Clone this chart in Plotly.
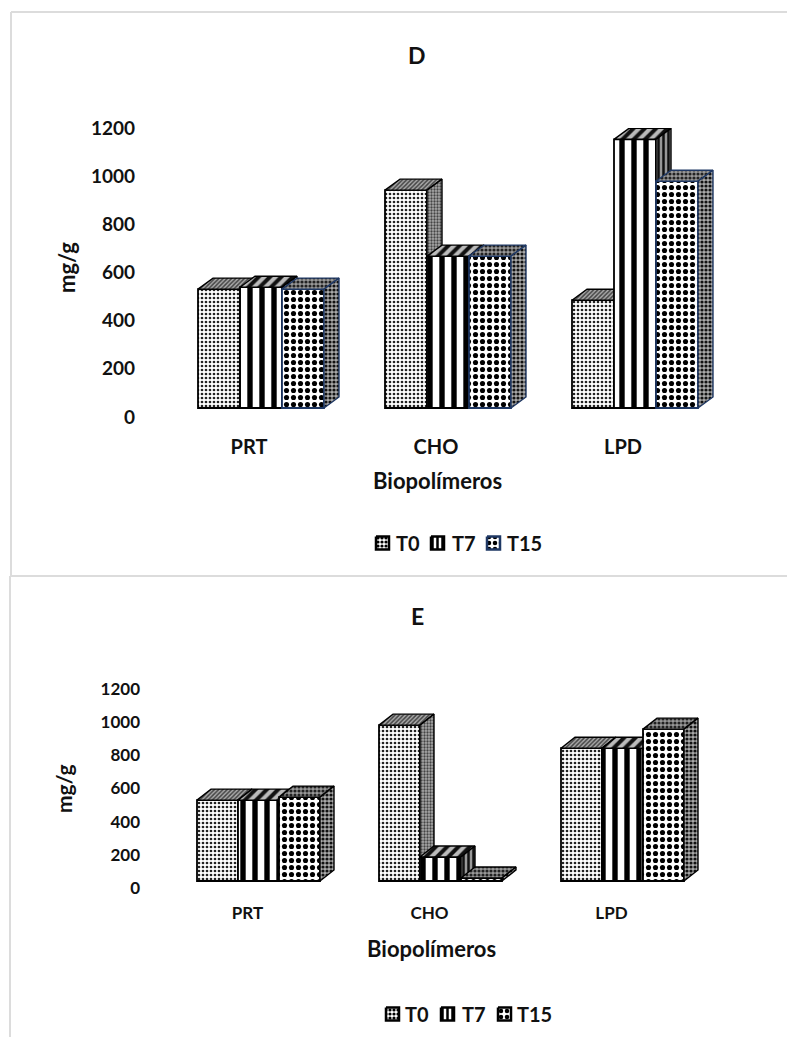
import plotly.graph_objects as go

WIDTH, HEIGHT = 787, 1037

categories = ["PRT", "CHO", "LPD"]
series_names = ["T0", "T7", "T15"]
y_ticks = [0, 200, 400, 600, 800, 1000, 1200]

d_t0 = [531, 942, 485]
d_t7 = [539, 668, 1153]
d_t15 = [531, 668, 979]

e_t0 = [530, 982, 843]
e_t7 = [530, 187, 843]
e_t15 = [548, 60, 958]

FONT = "Lato"
INK = "#111111"
NAVY = "#1f3864"


def pat(shape, size, solidity, fg, bg):
    return dict(shape=shape, size=size, solidity=solidity, fgcolor=fg, bgcolor=bg,
                fgopacity=1, fillmode="replace")


# Fill patterns for front, top and side faces of each series
FRONT = [
    pat(".", 4, 0.36, "#222222", "#ffffff"),
    pat("|", 12, 0.45, "#000000", "#ffffff"),
    pat(".", 7, 0.42, "#000000", "#ffffff"),
]
TOP = [
    pat("/", 3, 0.5, "#444444", "#aaaaaa"),
    pat("/", 8, 0.5, "#111111", "#bbbbbb"),
    pat(".", 4, 0.5, "#222222", "#999999"),
]
SIDE = [
    pat(".", 3, 0.45, "#444444", "#aaaaaa"),
    pat("|", 5, 0.5, "#111111", "#999999"),
    pat(".", 4, 0.5, "#111111", "#aaaaaa"),
]
KEY = [
    pat(".", 4, 0.5, "#000000", "#ffffff"),
    pat("|", 5, 0.5, "#000000", "#ffffff"),
    pat(".", 6, 0.45, "#000000", "#ffffff"),
]

PANELS = [
    dict(name="D", series=[d_t0, d_t7, d_t15], zero_y=417, top_y=128, first_x=261, step=187,
         bar_px=42, dx_px=15, dy_px=11, lift_px=9, left=136, right=760, tick_size=19,
         label_offset=-12, label_gap=16, label_size=20, edge=["black", "black", NAVY],
         title_y=55, xtitle=(437, 480), ytitle=(66, 268), ytitle_size=22,
         key_y=543, key_x=[376, 431, 487], key_text_x=[394, 450, 505], key_edge=["black", "black", NAVY]),
    dict(name="E", series=[e_t0, e_t7, e_t15], zero_y=888, top_y=689, first_x=258.5, step=182,
         bar_px=41, dx_px=14, dy_px=11, lift_px=7, left=141, right=760, tick_size=17,
         label_offset=-11, label_gap=13, label_size=17, edge=["black", "black", "black"],
         title_y=616, xtitle=(431, 948), ytitle=(63, 789), ytitle_size=21,
         key_y=1014, key_x=[386, 441, 498], key_text_x=[403, 460, 515], key_edge=["black", "black", "black"]),
]

fig = go.Figure()
layout = dict(
    width=WIDTH, height=HEIGHT, autosize=False,
    margin=dict(l=0, r=0, t=0, b=0, autoexpand=False),
    paper_bgcolor="white", plot_bgcolor="rgba(0,0,0,0)",
    font=dict(family=FONT, color=INK),
    hovermode="closest", showlegend=False,
    annotations=[], shapes=[],
)


def axis_suffix(n):
    return "" if n == 1 else str(n)


def page_text(text, x, y, size, angle=0, xanchor="center"):
    return dict(text=f"<b>{text}</b>", x=x / WIDTH, y=1 - y / HEIGHT, xref="paper", yref="paper",
                xanchor=xanchor, yanchor="middle", showarrow=False, textangle=angle,
                font=dict(size=size, color=INK))


for p_index, panel in enumerate(PANELS):
    px_per_unit = (panel["zero_y"] - panel["top_y"]) / 1200
    x_range = [(panel["left"] - panel["first_x"]) / panel["step"],
               (panel["right"] - panel["first_x"]) / panel["step"]]
    y_range = [0, 1200]
    bar_w = panel["bar_px"] / panel["step"]
    dx = panel["dx_px"] / panel["step"]
    dy = panel["dy_px"] / px_per_unit
    lift = panel["lift_px"] / px_per_unit

    for s_index, values in enumerate(panel["series"]):
        n = p_index * 3 + s_index + 1
        xref, yref = "x" + axis_suffix(n), "y" + axis_suffix(n)
        edge = panel["edge"][s_index]
        xs = [i + (s_index - 1) * bar_w for i in range(len(categories))]

        # Each series sits on its own overlaid axes so that later series cover earlier ones
        fig.add_trace(go.Bar(
            x=xs, y=[v - lift for v in values], base=lift, width=bar_w,
            name=series_names[s_index], xaxis=xref, yaxis=yref,
            marker=dict(color="white", pattern=FRONT[s_index], line=dict(color=edge, width=1.8)),
        ))
        for x_mid, v in zip(xs, values):
            x0, x1 = x_mid - bar_w / 2, x_mid + bar_w / 2
            faces = [
                ([x0, x1, x1 + dx, x0 + dx, x0], [v, v, v + dy, v + dy, v], TOP[s_index]),
                ([x1, x1 + dx, x1 + dx, x1, x1], [lift, lift + dy, v + dy, v, lift], SIDE[s_index]),
            ]
            for fx, fy, pattern in faces:
                fig.add_trace(go.Scatter(
                    x=fx, y=fy, mode="lines", fill="toself", fillcolor=pattern["bgcolor"],
                    fillpattern=pattern, line=dict(color=edge, width=1.4),
                    xaxis=xref, yaxis=yref, hoverinfo="skip",
                ))

        x_dom = [panel["left"] / WIDTH, panel["right"] / WIDTH]
        y_dom = [1 - panel["zero_y"] / HEIGHT, 1 - panel["top_y"] / HEIGHT]
        x_axis = dict(range=x_range, domain=x_dom, showgrid=False, zeroline=False,
                      showline=False, anchor=yref, fixedrange=True)
        y_axis = dict(range=y_range, domain=y_dom, showgrid=False, zeroline=False,
                      showline=False, anchor=xref, fixedrange=True)
        if s_index == 0:
            x_axis.update(
                tickmode="array",
                tickvals=[i + panel["label_offset"] / panel["step"] for i in range(len(categories))],
                ticktext=categories, ticks="", ticklabelstandoff=panel["label_gap"],
                tickfont=dict(family=FONT, size=panel["label_size"], color=INK, weight="bold"),
            )
            y_axis.update(
                tickmode="array", tickvals=y_ticks, ticks="",
                tickfont=dict(family=FONT, size=panel["tick_size"], color=INK, weight="bold"),
            )
        else:
            x_axis.update(overlaying="x" + axis_suffix(p_index * 3 + 1), visible=False)
            y_axis.update(overlaying="y" + axis_suffix(p_index * 3 + 1), visible=False)
        layout["xaxis" + axis_suffix(n)] = x_axis
        layout["yaxis" + axis_suffix(n)] = y_axis

    # Panel title and axis titles
    layout["annotations"].extend([
        page_text(panel["name"], 417, panel["title_y"], 23),
        page_text("Biopolímeros", panel["xtitle"][0], panel["xtitle"][1], 22),
        page_text("mg/g", panel["ytitle"][0], panel["ytitle"][1], panel["ytitle_size"], angle=-90),
    ])
    for name, tx in zip(series_names, panel["key_text_x"]):
        layout["annotations"].append(page_text(name, tx, panel["key_y"], 20, xanchor="left"))

# Hidden page-wide axes, in pixels, that carry the key swatches
KEY_X, KEY_Y = "x7", "y7"
layout["xaxis7"] = dict(range=[0, WIDTH], domain=[0, 1], visible=False, anchor=KEY_Y, fixedrange=True)
layout["yaxis7"] = dict(range=[HEIGHT, 0], domain=[0, 1], visible=False, anchor=KEY_X, fixedrange=True)
KEY_SIZE = 13
for panel in PANELS:
    for key_pattern, left, edge in zip(KEY, panel["key_x"], panel["key_edge"]):
        top = panel["key_y"] - KEY_SIZE / 2
        fig.add_trace(go.Scatter(
            x=[left, left + KEY_SIZE, left + KEY_SIZE, left, left],
            y=[top, top, top + KEY_SIZE, top + KEY_SIZE, top],
            mode="lines", fill="toself", fillcolor="white", fillpattern=key_pattern,
            line=dict(color=edge, width=2.5), xaxis=KEY_X, yaxis=KEY_Y, hoverinfo="skip",
        ))

# Light frame lines around the two panels
FRAME = "#dcdcdc"
frame_segments = [
    (11, 12, 11, 575), (11, 12, WIDTH, 12), (10, 576, WIDTH, 576), (10, 576, 10, HEIGHT),
]
for xa, ya, xb, yb in frame_segments:
    layout["shapes"].append(dict(
        type="line", xref="paper", yref="paper",
        x0=xa / WIDTH, x1=xb / WIDTH, y0=1 - ya / HEIGHT, y1=1 - yb / HEIGHT,
        line=dict(color=FRAME, width=2),
    ))

fig.update_layout(**layout)
fig.write_html("out.html")
